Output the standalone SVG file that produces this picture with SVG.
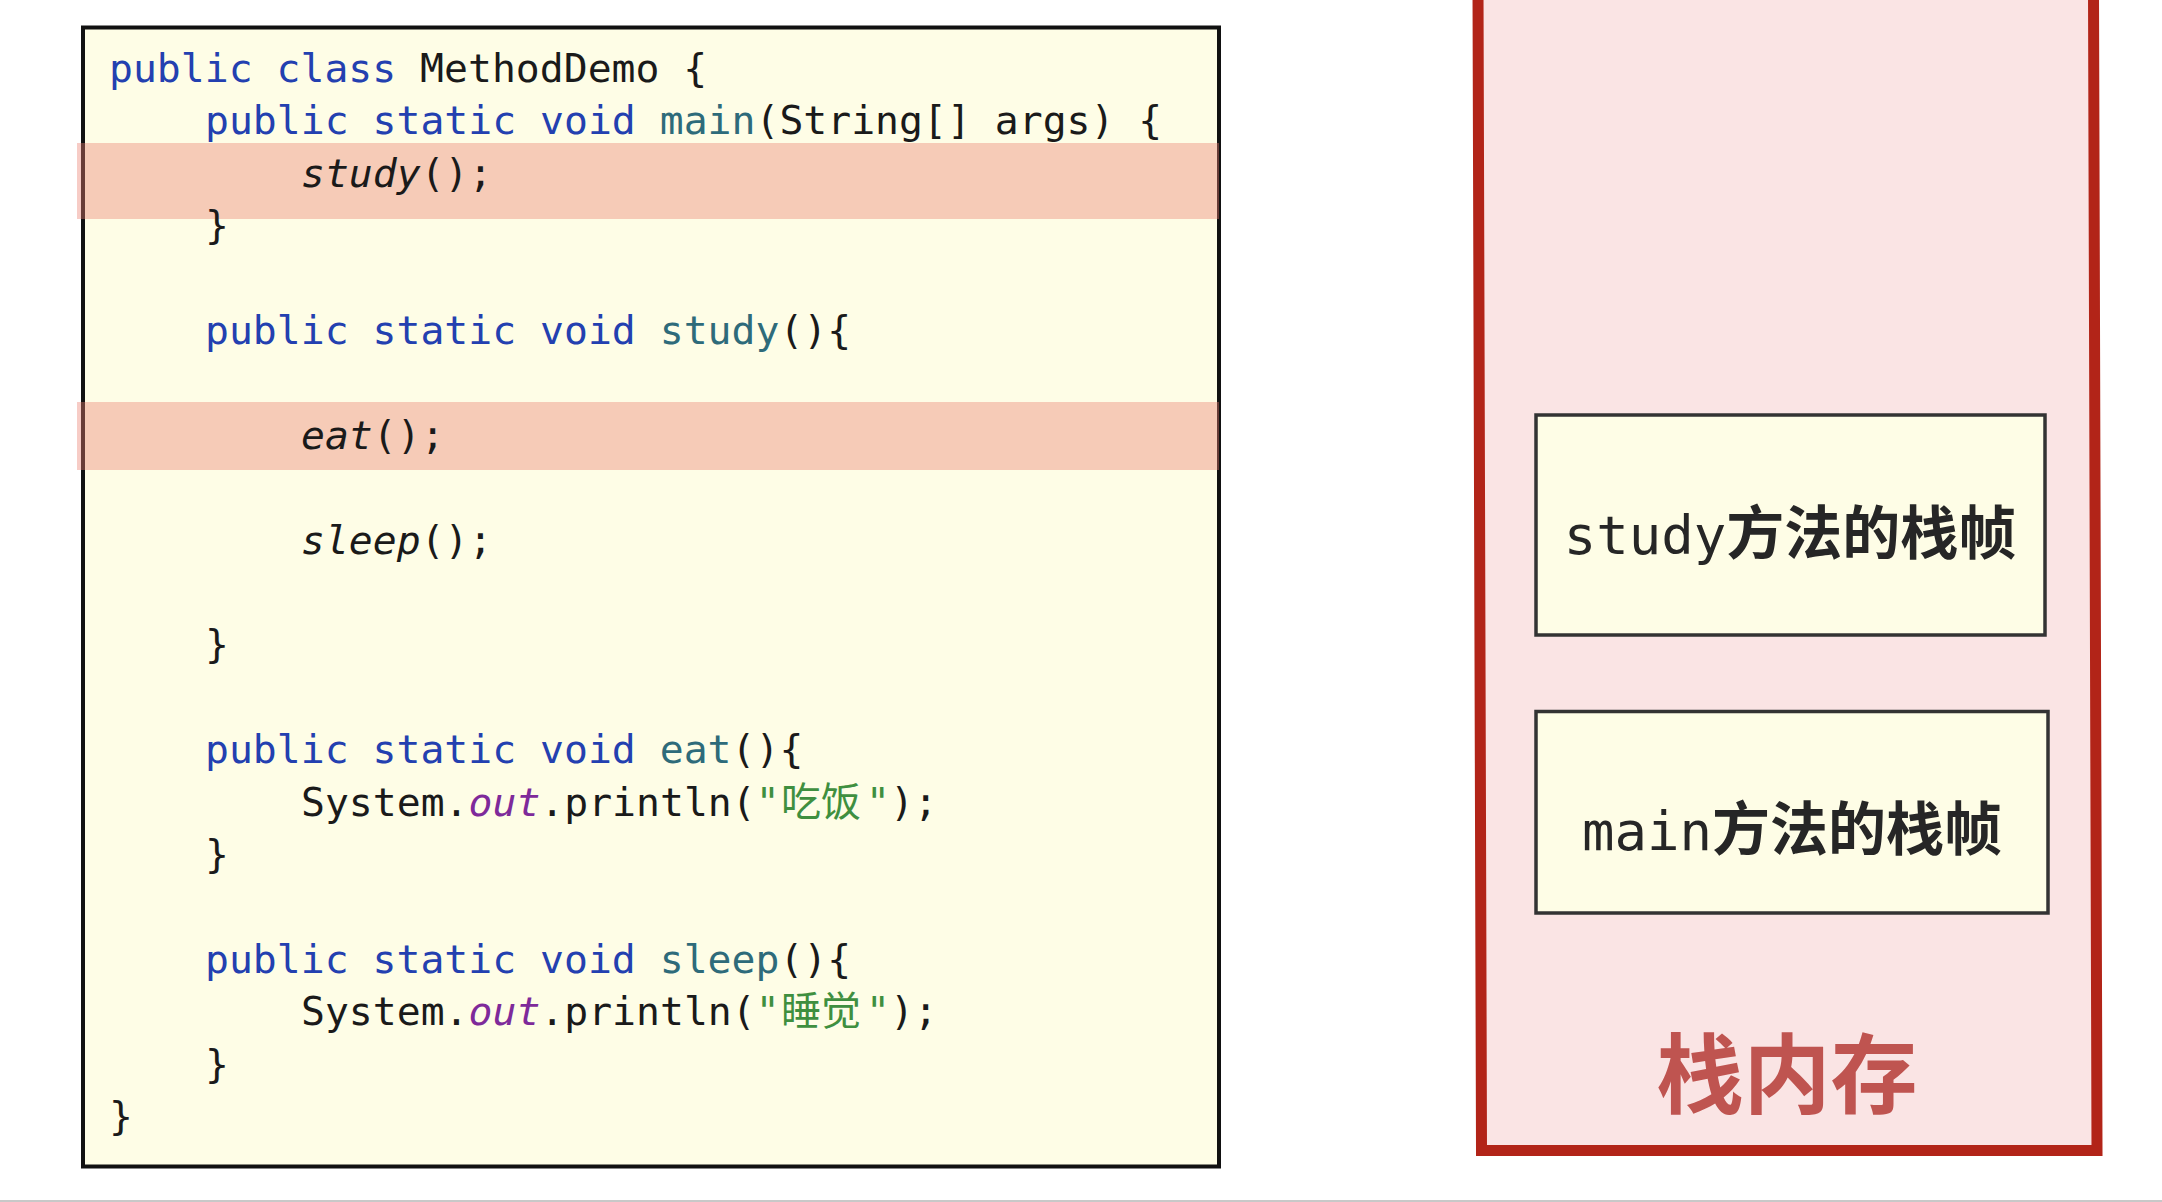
<svg xmlns="http://www.w3.org/2000/svg" width="2162" height="1202" viewBox="0 0 2162 1202">
<style>
.code{font-family:"DejaVu Sans Mono","Liberation Mono","Noto Sans CJK SC",monospace;font-size:39.75px;fill:#1a1a1a}
.kw{fill:#2340b0}
.fn{fill:#2e6b7a}
.it{font-style:italic}
.fld{fill:#7e2a9a;font-style:italic}
.str{fill:#3f8f3f}
.cjk{font-family:"Noto Sans CJK SC",sans-serif;font-size:40px}
.band{fill:#ea8070;fill-opacity:0.4}
.frame{fill:#fefde6;stroke:#333;stroke-width:3.5}
.flabel{font-family:"DejaVu Sans Mono","Liberation Mono",monospace;font-size:54px;fill:#262626;text-anchor:middle}
.zh{font-family:"Noto Sans CJK SC",sans-serif;font-weight:bold;font-size:58px}
</style>
<rect width="2162" height="1202" fill="#ffffff"/>
<line x1="0" y1="1201" x2="2162" y2="1201" stroke="#c8c8c8" stroke-width="2"/>

<g id="code-panel">
  <rect x="83" y="27.5" width="1136" height="1139" fill="#fefde6" stroke="#111" stroke-width="4"/>
  <rect class="band" x="77" y="143" width="1142" height="76"/>
  <rect class="band" x="77" y="402" width="1142" height="68"/>
  <text class="code" x="109" y="82"><tspan class="kw">public class</tspan> MethodDemo {</text>
  <text class="code" x="205" y="134.4"><tspan class="kw">public static void</tspan> <tspan class="fn">main</tspan>(String[] args) {</text>
  <text class="code" x="301" y="186.8"><tspan class="it">study</tspan>();</text>
  <text class="code" x="205" y="239.2">}</text>
  <text class="code" x="205" y="344"><tspan class="kw">public static void</tspan> <tspan class="fn">study</tspan>(){</text>
  <text class="code" x="301" y="448.8"><tspan class="it">eat</tspan>();</text>
  <text class="code" x="301" y="553.6"><tspan class="it">sleep</tspan>();</text>
  <text class="code" x="205" y="658.4">}</text>
  <text class="code" x="205" y="763.2"><tspan class="kw">public static void</tspan> <tspan class="fn">eat</tspan>(){</text>
  <text class="code" x="301" y="815.6">System.<tspan class="fld">out</tspan>.println(<tspan class="str">"</tspan><tspan class="str cjk" x="781">吃饭</tspan><tspan class="str" x="866">"</tspan>);</text>
  <text class="code" x="205" y="868">}</text>
  <text class="code" x="205" y="972.8"><tspan class="kw">public static void</tspan> <tspan class="fn">sleep</tspan>(){</text>
  <text class="code" x="301" y="1025.2">System.<tspan class="fld">out</tspan>.println(<tspan class="str">"</tspan><tspan class="str cjk" x="781">睡觉</tspan><tspan class="str" x="866">"</tspan>);</text>
  <text class="code" x="205" y="1077.6">}</text>
  <text class="code" x="109" y="1130">}</text>
</g>

<g id="stack-memory">
  <path d="M1478,-10 L1481.5,1150.5 L2097,1150.5 L2093.5,-10" fill="#fae4e4" stroke="#b22418" stroke-width="11"/>
  <text x="1787" y="1107" font-family="'Noto Sans CJK SC',sans-serif" font-weight="bold" font-size="87" fill="#bf5450" text-anchor="middle">栈内存</text>
</g>

<g id="frame-study">
  <rect class="frame" x="1536" y="415" width="509" height="220"/>
  <text class="flabel" x="1790" y="554">study<tspan class="zh">方法的栈帧</tspan></text>
</g>

<g id="frame-main">
  <rect class="frame" x="1536" y="711.5" width="512" height="201.5"/>
  <text class="flabel" x="1792" y="850">main<tspan class="zh">方法的栈帧</tspan></text>
</g>

<g id="connectors"/>
</svg>
